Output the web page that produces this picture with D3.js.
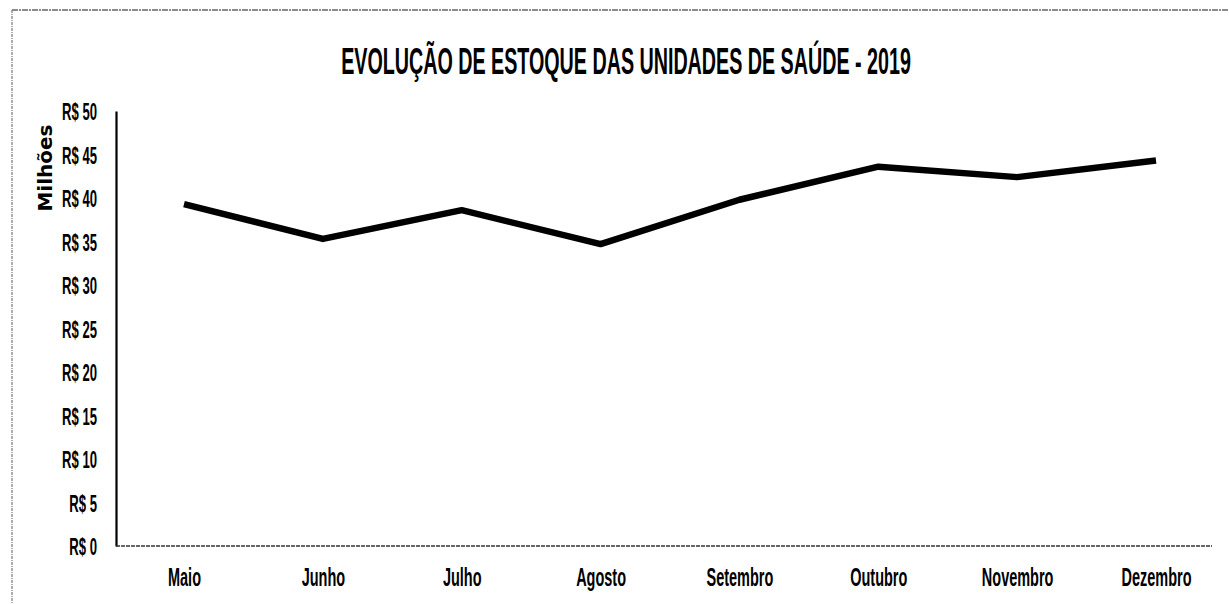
<!DOCTYPE html>
<html>
<head>
<meta charset="utf-8">
<script src="https://cdn.jsdelivr.net/npm/d3@7/dist/d3.min.js"></script>
<style>
  html, body { margin: 0; padding: 0; background: #fff; }
  svg { display: block; }
  text { font-weight: bold; fill: #000; }
</style>
</head>
<body>
<svg id="chart" width="1229" height="604"></svg>
<script>
const months = ["Maio", "Junho", "Julho", "Agosto", "Setembro", "Outubro", "Novembro", "Dezembro"];
const stockMillions = [39.3, 35.3, 38.6, 34.7, 39.8, 43.6, 42.4, 44.3];
const yTicks = [0, 5, 10, 15, 20, 25, 30, 35, 40, 45, 50];
const titleText = "EVOLUÇÃO DE ESTOQUE DAS UNIDADES DE SAÚDE - 2019";
const yAxisTitle = "Milhões";

const svg = d3.select("#chart");
const W = 1229, H = 604;
const plot = { left: 116, right: 1212, top: 111, bottom: 546 };
const condensed = "'Liberation Sans', Arial, sans-serif";

// outer frame (scanned look)
svg.append("line").attr("x1", 12).attr("x2", W).attr("y1", 10).attr("y2", 10)
  .attr("stroke", "#666").attr("stroke-width", 1.6).attr("stroke-dasharray", "6,1,2,1");
svg.append("line").attr("x1", 12).attr("x2", 12).attr("y1", 10).attr("y2", H)
  .attr("stroke", "#777").attr("stroke-width", 1.2).attr("stroke-dasharray", "3,1,1,1");

const x = d3.scalePoint().domain(months).range([184, 1156]);
const y = d3.scaleLinear().domain([0, 50]).range([plot.bottom, plot.top]);

// title (condensed by horizontal scaling to match the reference width)
const titleG = svg.append("g");
const title = titleG.append("text")
  .attr("x", 0).attr("y", 0)
  .attr("text-anchor", "middle")
  .style("font-family", condensed)
  .style("font-size", "37px")
  .text(titleText);
const tLen = title.node().getComputedTextLength();
titleG.attr("transform", `translate(626,74) scale(${570 / tLen},1)`);

// y axis
const yAxis = d3.axisLeft(y).tickValues(yTicks).tickSize(0).tickPadding(0)
  .tickFormat(d => "R$ " + d);
const gy = svg.append("g").attr("transform", `translate(${plot.left},0)`).call(yAxis);
gy.select(".domain").attr("stroke", "#000").attr("stroke-width", 2.2);
gy.selectAll(".tick text")
  .style("font-family", condensed)
  .style("font-size", "24px")
  .style("font-weight", "bold")
  .attr("dy", "0.36em");
// squeeze tick labels
const sampleLen = gy.selectAll(".tick text").filter(d => d === 50).node().getComputedTextLength();
const ySq = 35 / sampleLen;
gy.selectAll(".tick text")
  .attr("x", -19 / ySq)
  .attr("transform", `scale(${ySq},1)`);

// y axis title
svg.append("text")
  .attr("transform", "translate(52,168) rotate(-90)")
  .attr("text-anchor", "middle")
  .style("font-family", "'DejaVu Sans', sans-serif")
  .style("font-size", "20px")
  .style("font-weight", "bold")
  .text(yAxisTitle);

// x axis
const xAxis = d3.axisBottom(x).tickSize(0).tickPadding(0);
const gx = svg.append("g").attr("transform", `translate(0,${plot.bottom})`).call(xAxis);
gx.select(".domain").remove();
gx.append("line").attr("x1", plot.left).attr("x2", plot.right).attr("y1", 0).attr("y2", 0)
  .attr("stroke", "#333").attr("stroke-width", 1.6).attr("stroke-dasharray", "4,1");
gx.selectAll(".tick text")
  .style("font-family", condensed)
  .style("font-size", "25px")
  .style("font-weight", "bold")
  .attr("y", 40)
  .attr("dy", 0);
const maioLen = gx.selectAll(".tick text").filter(d => d === "Maio").node().getComputedTextLength();
const xSq = 33 / maioLen;
gx.selectAll(".tick").each(function() {
  const t = d3.select(this);
  const tr = t.attr("transform");
  const tx = +tr.match(/translate\(([-\d.]+)/)[1];
  t.attr("transform", `translate(${tx},0) scale(${xSq},1)`);
});

// line
const line = d3.line().x((d, i) => x(months[i])).y(d => y(d));
svg.append("path")
  .datum(stockMillions)
  .attr("d", line)
  .attr("fill", "none")
  .attr("stroke", "#000")
  .attr("stroke-width", 6.5)
  .attr("stroke-linejoin", "round")
  .attr("stroke-linecap", "butt");
</script>
</body>
</html>
